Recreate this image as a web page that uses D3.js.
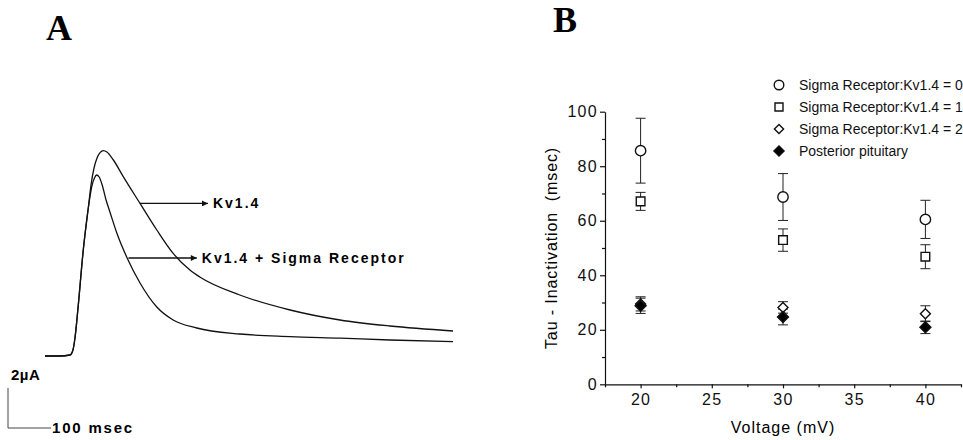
<!DOCTYPE html>
<html>
<head>
<meta charset="utf-8">
<script src="https://cdn.jsdelivr.net/npm/d3@7"></script>
<style>
  body { margin: 0; background: #fff; }
  svg { display: block; font-family: Arial, "Liberation Sans", sans-serif; }
</style>
</head>
<body>
<svg id="chart" width="963" height="440"></svg>
<script>
// Panel A traces: [time (msec), current (uA)]
const kvTrace = [
  [0, 0], [35, 0], [58, 0.05], [65, 0.3], [70, 0.95], [77, 2.45], [89, 5.3], [101, 7.45],
  [107, 8.55], [114, 9.4], [121, 9.9], [128, 10.17], [136, 10.27], [144, 10.2], [159, 9.8],
  [182, 8.97], [221, 7.63], [260, 6.3], [298, 5.13], [337, 4.3], [360, 3.95], [453, 3.05],
  [570, 2.3], [686, 1.8], [802, 1.5], [949, 1.25]
];
const kvSigmaTrace = [
  [0, 0], [35, 0], [58, 0.05], [65, 0.3], [70, 0.95], [77, 2.45], [89, 5.3], [101, 7.45],
  [109, 8.5], [115, 8.9], [120, 9.05], [126, 8.95], [133, 8.55], [142, 7.8], [151, 7.2],
  [167, 6.15], [191, 4.9], [221, 3.65], [260, 2.45], [298, 1.8], [353, 1.4], [453, 1.1],
  [570, 0.97], [686, 0.89], [802, 0.8], [949, 0.72]
];
// arrows: [t start, t end, current]
const traceArrows = [
  { label: "Kv1.4", from: 221, to: 379, level: 7.63 },
  { label: "Kv1.4 + Sigma Receptor", from: 194, to: 353, level: 4.9 }
];

// Panel B
const voltages = [20, 30, 40];
const ratio0Mean = [85.7, 68.7, 60.5], ratio0Err = [11.9, 8.6, 7.0];
const ratio1Mean = [67.1, 52.9, 46.8], ratio1Err = [3.3, 4.1, 4.4];
const ratio2Mean = [29.5, 28.2, 25.9], ratio2Err = [2.6, 2.1, 2.9];
const pituitaryMean = [28.8, 24.7, 20.9], pituitaryErr = [2.8, 2.9, 2.3];
const seriesNames = ["Sigma Receptor:Kv1.4 = 0", "Sigma Receptor:Kv1.4 = 1",
                     "Sigma Receptor:Kv1.4 = 2", "Posterior pituitary"];
const xTicks = [20, 25, 30, 35, 40];
const yTicks = [0, 20, 40, 60, 80, 100];

const svg = d3.select("#chart");
svg.append("rect").attr("width", 963).attr("height", 440).attr("fill", "#fff");

// ---------- Panel A ----------
const xA = d3.scaleLinear().domain([0, 950]).range([45, 453.5]);
const yA = d3.scaleLinear().domain([0, 10]).range([356, 156]);

svg.append("text")
  .attr("x", 46).attr("y", 40)
  .style("font-family", "'Liberation Serif', 'Times New Roman', serif")
  .style("font-weight", "bold").style("font-size", "36px")
  .text("A");

const traceLine = d3.line()
  .x(d => xA(d[0])).y(d => yA(d[1]))
  .curve(d3.curveMonotoneX);

const gA = svg.append("g");
[kvTrace, kvSigmaTrace].forEach(tr => {
  gA.append("path")
    .attr("d", traceLine(tr))
    .attr("fill", "none").attr("stroke", "#111").attr("stroke-width", 1.3);
});

svg.append("defs").append("marker")
  .attr("id", "head").attr("viewBox", "0 0 10 10")
  .attr("refX", 10).attr("refY", 5)
  .attr("markerWidth", 8).attr("markerHeight", 6)
  .attr("markerUnits", "userSpaceOnUse")
  .attr("orient", "auto")
  .append("path").attr("d", "M0,0L10,5L0,10z").attr("fill", "#111");

traceArrows.forEach(a => {
  gA.append("line")
    .attr("x1", xA(a.from)).attr("x2", xA(a.to))
    .attr("y1", yA(a.level)).attr("y2", yA(a.level))
    .attr("stroke", "#111").attr("stroke-width", 1.3)
    .attr("marker-end", "url(#head)");
  gA.append("text")
    .attr("x", xA(a.to) + 5).attr("y", yA(a.level))
    .attr("dy", "0.36em")
    .style("font-weight", "bold").style("font-size", "14px")
    .style("letter-spacing", "2px")
    .text(a.label);
});

// scale bar: 100 msec x 2 uA
const bar = svg.append("g");
const barX = 8, barY = 428;
bar.append("path")
  .attr("d", `M${barX},${barY - (yA(0) - yA(2))}V${barY}H${barX + xA(100) - xA(0)}`)
  .attr("fill", "none").attr("stroke", "#444").attr("stroke-width", 1);
bar.append("text")
  .attr("x", 11).attr("y", 380)
  .style("font-weight", "bold").style("font-size", "15px")
  .style("letter-spacing", "0.5px")
  .text("2\u00b5A");
bar.append("text")
  .attr("x", barX + xA(100) - xA(0) + 1).attr("y", barY + 5)
  .style("font-weight", "bold").style("font-size", "15px")
  .style("letter-spacing", "1.8px")
  .text("100 msec");

// ---------- Panel B ----------
svg.append("text")
  .attr("x", 553).attr("y", 32)
  .style("font-family", "'Liberation Serif', 'Times New Roman', serif")
  .style("font-weight", "bold").style("font-size", "36px")
  .text("B");

const xB = d3.scaleLinear().domain([17.5, 42.5]).range([605, 961]);
const yB = d3.scaleLinear().domain([0, 100]).range([384.3, 111.7]);

const gB = svg.append("g");

// minor ticks
gB.append("g")
  .attr("transform", `translate(0,${yB(0)})`)
  .call(d3.axisBottom(xB).tickValues([17.5, 22.5, 27.5, 32.5, 37.5, 42.5]).tickSize(3).tickFormat(""))
  .call(g => g.select(".domain").remove());
gB.append("g")
  .attr("transform", `translate(${xB.range()[0]},0)`)
  .call(d3.axisLeft(yB).tickValues([10, 30, 50, 70, 90]).tickSize(3).tickFormat(""))
  .call(g => g.select(".domain").remove());

const xAxis = gB.append("g")
  .attr("transform", `translate(0,${yB(0)})`)
  .call(d3.axisBottom(xB).tickValues(xTicks).tickSize(4).tickPadding(5).tickSizeOuter(0));
const yAxis = gB.append("g")
  .attr("transform", `translate(${xB.range()[0]},0)`)
  .call(d3.axisLeft(yB).tickValues(yTicks).tickSize(5).tickPadding(2).tickSizeOuter(0));

gB.selectAll(".tick text")
  .style("font-size", "16px").style("letter-spacing", "1.3px")
  .attr("fill", "#111");
gB.selectAll(".domain, .tick line").attr("stroke", "#111").attr("stroke-width", 1.2);

gB.append("text")
  .attr("x", 783).attr("y", 433)
  .attr("text-anchor", "middle")
  .style("font-size", "16px").style("letter-spacing", "1px")
  .text("Voltage (mV)");
gB.append("text")
  .attr("transform", `translate(557,${yB(50) + 0}) rotate(-90)`)
  .attr("text-anchor", "middle")
  .style("font-size", "16px").style("letter-spacing", "0.9px")
  .style("white-space", "pre")
  .text("Tau - Inactivation  (msec)");

const series = [
  { name: seriesNames[0], mean: ratio0Mean, err: ratio0Err, shape: d3.symbolCircle, size: 85, fill: "#fff", rot: 0 },
  { name: seriesNames[1], mean: ratio1Mean, err: ratio1Err, shape: d3.symbolSquare, size: 75, fill: "#fff", rot: 0 },
  { name: seriesNames[2], mean: ratio2Mean, err: ratio2Err, shape: d3.symbolSquare, size: 50, fill: "#fff", rot: 45 },
  { name: seriesNames[3], mean: pituitaryMean, err: pituitaryErr, shape: d3.symbolSquare, size: 60, fill: "#000", rot: 45 }
];

// error bars first
series.forEach(s => {
  voltages.forEach((v, i) => {
    const cx = xB(v), top = yB(s.mean[i] + s.err[i]), bot = yB(s.mean[i] - s.err[i]);
    gB.append("path")
      .attr("d", `M${cx},${top}V${bot}M${cx - 5},${top}H${cx + 5}M${cx - 5},${bot}H${cx + 5}`)
      .attr("fill", "none").attr("stroke", "#222").attr("stroke-width", 1);
  });
});

series.forEach(s => {
  gB.selectAll(null)
    .data(voltages.map((v, i) => [v, s.mean[i]]))
    .join("path")
    .attr("transform", d => `translate(${xB(d[0])},${yB(d[1])}) rotate(${s.rot})`)
    .attr("d", d3.symbol().type(s.shape).size(s.size))
    .attr("fill", s.fill).attr("stroke", "#111").attr("stroke-width", 1.4);
});

// legend
const legend = gB.append("g").attr("transform", "translate(779,85)");
series.forEach((s, i) => {
  const row = legend.append("g").attr("transform", `translate(0,${i * 22})`);
  row.append("path")
    .attr("transform", `rotate(${s.rot})`)
    .attr("d", d3.symbol().type(s.shape).size(s.size * 0.85))
    .attr("fill", s.fill).attr("stroke", "#111").attr("stroke-width", 1.4);
  row.append("text")
    .attr("x", 20).attr("dy", "0.35em")
    .style("font-size", "14px")
    .attr("fill", "#111")
    .text(s.name);
});
</script>
</body>
</html>
